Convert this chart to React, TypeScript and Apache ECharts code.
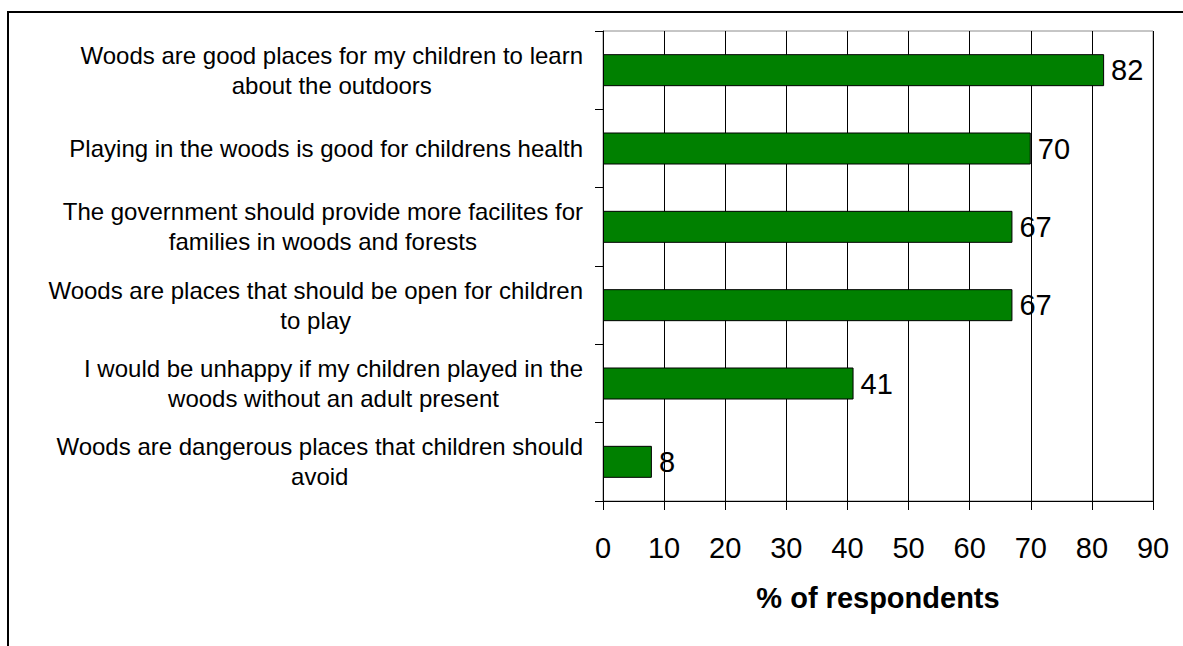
import React, { useEffect, useRef } from "react";
import * as echarts from "echarts";

const categories: string[][] = [
  ["Woods are good places for my children to learn", "about the outdoors"],
  ["Playing in the woods is good for childrens health"],
  ["The government should provide more facilites for", "families in woods and forests"],
  ["Woods are places that should be open for children", "to play"],
  ["I would be unhappy if my children played in the", "woods without an adult present"],
  ["Woods are dangerous places that children should", "avoid"],
];
const values: number[] = [82, 70, 67, 67, 41, 8];
const xTicks = { min: 0, max: 90, interval: 10 };
const axisTitle = "% of respondents";

const FONT = '"Liberation Sans", Arial, sans-serif';

export default function App() {
  const ref = useRef<HTMLDivElement>(null);
  useEffect(() => {
    if (!ref.current) return;
    const chart = echarts.init(ref.current, undefined, { renderer: "svg" });
    const catNames = categories.map((c) => c.join("\n"));
    chart.setOption({
      animation: false,
      backgroundColor: "#ffffff",
      textStyle: { fontFamily: FONT },
      graphic: [
        {
          type: "rect",
          shape: { x: 8, y: 12, width: 1300, height: 800 },
          style: { fill: "none", stroke: "#000", lineWidth: 2 },
          silent: true,
        },
      ],
      grid: {
        left: 603,
        top: 31,
        right: 30,
        bottom: 145,
        show: true,
        borderColor: "#8c8c8c",
        borderWidth: 1,
        backgroundColor: "transparent",
      },
      xAxis: {
        type: "value",
        min: xTicks.min,
        max: xTicks.max,
        interval: xTicks.interval,
        name: axisTitle,
        nameLocation: "middle",
        nameGap: 82,
        nameTextStyle: { fontFamily: FONT, fontSize: 29, fontWeight: "bold", color: "#000" },
        axisLine: { show: true, lineStyle: { color: "#000", width: 1 } },
        axisTick: { show: true, length: 9, lineStyle: { color: "#000" } },
        axisLabel: { fontFamily: FONT, fontSize: 29, color: "#000", margin: 32 },
        splitLine: { show: true, lineStyle: { color: "#000", width: 1 } },
      },
      yAxis: {
        type: "category",
        data: catNames,
        inverse: true,
        axisLine: { show: true, lineStyle: { color: "#000", width: 1 } },
        axisTick: { show: true, length: 8, lineStyle: { color: "#000" } },
        axisLabel: {
          margin: 20,
          align: "right",
          fontFamily: FONT,
          color: "#000",
          formatter: (v: string) =>
            v
              .split("\n")
              .map((l) => `{c|${l}}`)
              .join("\n"),
          rich: {
            c: { align: "center", fontSize: 24, lineHeight: 30, fontFamily: FONT, color: "#000" },
          },
        },
        splitLine: { show: false },
      },
      series: [
        {
          type: "bar",
          data: values,
          barWidth: 32,
          itemStyle: { color: "#008000", borderColor: "#000", borderWidth: 1 },
          label: {
            show: true,
            position: "right",
            distance: 7,
            fontFamily: FONT,
            fontSize: 29,
            color: "#000",
          },
        },
      ],
    });
    return () => chart.dispose();
  }, []);
  return (
    <div
      ref={ref}
      style={{ position: "fixed", left: 0, top: 0, width: 1183, height: 646, background: "#fff" }}
    />
  );
}
